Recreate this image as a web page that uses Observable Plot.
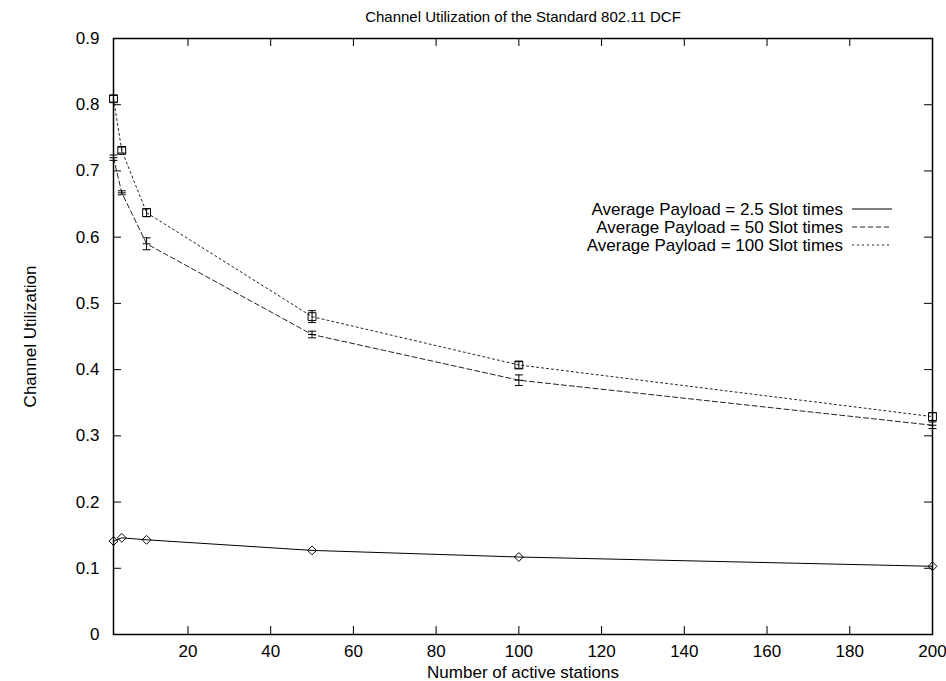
<!DOCTYPE html>
<html>
<head>
<meta charset="utf-8">
<script src="https://cdn.jsdelivr.net/npm/d3@7"></script>
<script src="https://cdn.jsdelivr.net/npm/@observablehq/plot@0.6"></script>
<style>
  html, body { margin: 0; padding: 0; background: #fff; }
  #chart { width: 946px; height: 681px; }
</style>
</head>
<body>
<div id="chart"></div>
<script>
// ---- data ----
const stations = [2, 4, 10, 50, 100, 200];
const util25 = [0.141, 0.146, 0.143, 0.127, 0.117, 0.103];
const util50 = [0.720, 0.667, 0.590, 0.453, 0.384, 0.316];
const util50Lo = [0.716, 0.664, 0.581, 0.448, 0.376, 0.311];
const util50Hi = [0.724, 0.670, 0.599, 0.458, 0.392, 0.321];
const util100 = [0.809, 0.731, 0.637, 0.480, 0.407, 0.329];
const util100Lo = [0.804, 0.727, 0.631, 0.471, 0.402, 0.323];
const util100Hi = [0.814, 0.736, 0.643, 0.489, 0.412, 0.335];
const seriesNames = [
  "Average Payload = 2.5 Slot times",
  "Average Payload = 50 Slot times",
  "Average Payload = 100 Slot times"
];
const xTicks = [20, 40, 60, 80, 100, 120, 140, 160, 180, 200];
const yTicks = [0, 0.1, 0.2, 0.3, 0.4, 0.5, 0.6, 0.7, 0.8, 0.9];
const titleText = "Channel Utilization of the Standard 802.11 DCF";
const xLabel = "Number of active stations";
const yLabel = "Channel Utilization";

// ---- build tables ----
const s1 = stations.map((x, i) => ({x, y: util25[i]}));
const s2 = stations.map((x, i) => ({x, y: util50[i], lo: util50Lo[i], hi: util50Hi[i]}));
const s3 = stations.map((x, i) => ({x, y: util100[i], lo: util100Lo[i], hi: util100Hi[i]}));

const dashes = [null, "5,3", "2,3"];
const FONT = "'Liberation Sans', Arial, Helvetica, sans-serif";
const FS = 17;

const W = 946, H = 681;
const mL = 113, mR = 14, mT = 38, mB = 47;
const innerW = W - mL - mR, innerH = H - mT - mB;
const tick = 8;

const hbar = {
  draw(ctx, size) {
    const r = Math.sqrt(size / Math.PI);
    ctx.moveTo(-r, 0); ctx.lineTo(r, 0);
  }
};

const errMarks = (data) => [
  Plot.ruleX(data, {x: "x", y1: "lo", y2: "hi", stroke: "black", strokeWidth: 1}),
  Plot.dot(data, {x: "x", y: "lo", symbol: hbar, r: 4, stroke: "black", strokeWidth: 1}),
  Plot.dot(data, {x: "x", y: "hi", symbol: hbar, r: 4, stroke: "black", strokeWidth: 1})
];

const chart = Plot.plot({
  width: W, height: H,
  marginLeft: mL, marginRight: mR, marginTop: mT, marginBottom: mB,
  style: {fontFamily: FONT, fontSize: FS + "px", background: "#fff", color: "#000"},
  x: {domain: [2, 200]},
  y: {domain: [0, 0.9]},
  marks: [
    Plot.axisX(xTicks, {tickSize: 0, tickPadding: 10, label: null, fontSize: FS}),
    Plot.axisY(yTicks, {tickSize: 0, tickPadding: 14, label: null, fontSize: FS,
      tickFormat: d => d === 0 ? "0" : d3.format(".1f")(d)}),
    // inward ticks on all four sides
    Plot.ruleX(xTicks, {insetTop: innerH - tick, stroke: "black"}),
    Plot.ruleX(xTicks, {insetBottom: innerH - tick, stroke: "black"}),
    Plot.ruleY(yTicks, {insetRight: innerW - tick, stroke: "black"}),
    Plot.ruleY(yTicks, {insetLeft: innerW - tick, stroke: "black"}),
    // series lines
    Plot.line(s1, {x: "x", y: "y", stroke: "black", strokeWidth: 1}),
    Plot.line(s2, {x: "x", y: "y", stroke: "#222", strokeWidth: 1, strokeDasharray: dashes[1]}),
    Plot.line(s3, {x: "x", y: "y", stroke: "#222", strokeWidth: 1, strokeDasharray: dashes[2]}),
    // error bars
    ...errMarks(s2),
    ...errMarks(s3),
    // points
    Plot.dot(s1, {x: "x", y: "y", symbol: "diamond2", r: 4, stroke: "black", fill: "none", strokeWidth: 1}),
    Plot.dot(s2, {x: "x", y: "y", symbol: hbar, r: 4, stroke: "black", strokeWidth: 1}),
    Plot.dot(s3, {x: "x", y: "y", symbol: "square2", r: 5, stroke: "black", fill: "none", strokeWidth: 1}),
    Plot.frame({stroke: "black", strokeWidth: 1.5}),
    // titles
    Plot.text([titleText], {frameAnchor: "top", dy: -21, lineAnchor: "middle", fontSize: 15}),
    Plot.text([xLabel], {frameAnchor: "bottom", dy: 38, lineAnchor: "middle", fontSize: 17}),
    Plot.text([yLabel], {frameAnchor: "left", dx: -83, rotate: -90, textAnchor: "middle", fontSize: 17})
  ]
});

// legend (inside plot area, top right)
const svg = d3.select(chart);
const lg = svg.append("g").attr("font-size", 17).attr("font-family", FONT);
const legendTextRight = 843, legendLineX1 = 852, legendLineX2 = 892, legendTop = 209, legendStep = 18;
seriesNames.forEach((name, i) => {
  const yy = legendTop + i * legendStep;
  lg.append("text").attr("x", legendTextRight).attr("y", yy).attr("dy", "0.35em")
    .attr("text-anchor", "end").attr("fill", "black").text(name);
  const ln = lg.append("line").attr("x1", legendLineX1).attr("x2", legendLineX2)
    .attr("y1", yy).attr("y2", yy).attr("stroke", i === 0 ? "black" : "#222").attr("stroke-width", 1);
  if (dashes[i]) ln.attr("stroke-dasharray", dashes[i]);
});

document.getElementById("chart").appendChild(chart);
</script>
</body>
</html>
